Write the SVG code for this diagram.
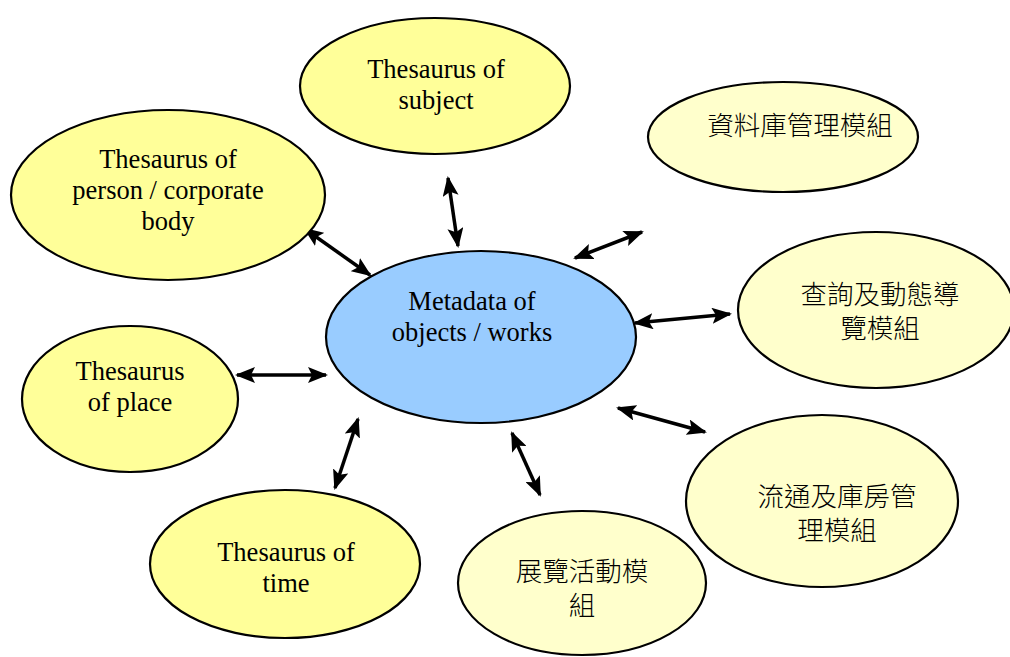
<svg xmlns="http://www.w3.org/2000/svg" width="1010" height="657" viewBox="0 0 1010 657">
  <style>
    .node { stroke: #000; stroke-width: 2.2; }
    .thes { fill: #FFFF99; }
    .mod { fill: #FFFFCC; }
    .core { fill: #99CCFF; }
    .en { font-family: "Liberation Serif", "Times New Roman", serif; font-size: 26.5px; fill: #000; text-anchor: middle; }
    .zh { font-family: "Liberation Sans", "Noto Sans CJK TC", sans-serif; font-size: 26.5px; font-weight: 300; fill: #000; text-anchor: middle; }
    .link { stroke: #000; stroke-width: 3.5; fill: none; marker-start: url(#head); marker-end: url(#head); }
  </style>
  <defs>
    <marker id="head" viewBox="0 0 20 16" refX="18" refY="8" markerWidth="20" markerHeight="16" markerUnits="userSpaceOnUse" orient="auto-start-reverse">
      <path d="M0,0 L20,8 L0,16 L4,8 z" fill="#000"/>
    </marker>
  </defs>
  <rect width="1010" height="657" fill="#fff"/>

  <g id="connectors">
    <line class="link" x1="448" y1="178" x2="458" y2="246"/>
    <line class="link" x1="305" y1="229" x2="370" y2="275"/>
    <line class="link" x1="575" y1="258" x2="642" y2="232"/>
    <line class="link" x1="635" y1="323" x2="730" y2="314"/>
    <line class="link" x1="237" y1="375" x2="326" y2="375"/>
    <line class="link" x1="618" y1="408" x2="705" y2="432"/>
    <line class="link" x1="358" y1="419" x2="335" y2="488"/>
    <line class="link" x1="512" y1="433" x2="540" y2="495"/>
  </g>

  <g id="thesaurus-subject">
    <ellipse class="node thes" cx="435" cy="86" rx="135" ry="68"/>
    <text class="en" x="436" y="78">Thesaurus of</text>
    <text class="en" x="436" y="109">subject</text>
  </g>

  <g id="database-module">
    <ellipse class="node mod" cx="783" cy="137" rx="135" ry="55"/>
    <text class="zh" x="800" y="135">資料庫管理模組</text>
  </g>

  <g id="thesaurus-person">
    <ellipse class="node thes" cx="168" cy="195" rx="157" ry="85"/>
    <text class="en" x="168" y="168">Thesaurus of</text>
    <text class="en" x="168" y="199">person / corporate</text>
    <text class="en" x="168" y="230">body</text>
  </g>

  <g id="metadata">
    <ellipse class="node core" cx="481" cy="337" rx="155" ry="86"/>
    <text class="en" x="472" y="310">Metadata of</text>
    <text class="en" x="472" y="341">objects / works</text>
  </g>

  <g id="query-module">
    <ellipse class="node mod" cx="876" cy="310" rx="138" ry="78"/>
    <text class="zh" x="880" y="304">查詢及動態導</text>
    <text class="zh" x="880" y="338">覽模組</text>
  </g>

  <g id="thesaurus-place">
    <ellipse class="node thes" cx="130" cy="399" rx="108" ry="73"/>
    <text class="en" x="130" y="380">Thesaurus</text>
    <text class="en" x="130" y="411">of place</text>
  </g>

  <g id="circulation-module">
    <ellipse class="node mod" cx="822" cy="501" rx="136" ry="86"/>
    <text class="zh" x="837" y="506">流通及庫房管</text>
    <text class="zh" x="837" y="540">理模組</text>
  </g>

  <g id="thesaurus-time">
    <ellipse class="node thes" cx="285" cy="564" rx="135" ry="74"/>
    <text class="en" x="286" y="561">Thesaurus of</text>
    <text class="en" x="286" y="592">time</text>
  </g>

  <g id="exhibition-module">
    <ellipse class="node mod" cx="582" cy="583" rx="124" ry="72"/>
    <text class="zh" x="582" y="581">展覽活動模</text>
    <text class="zh" x="582" y="615">組</text>
  </g>
</svg>
